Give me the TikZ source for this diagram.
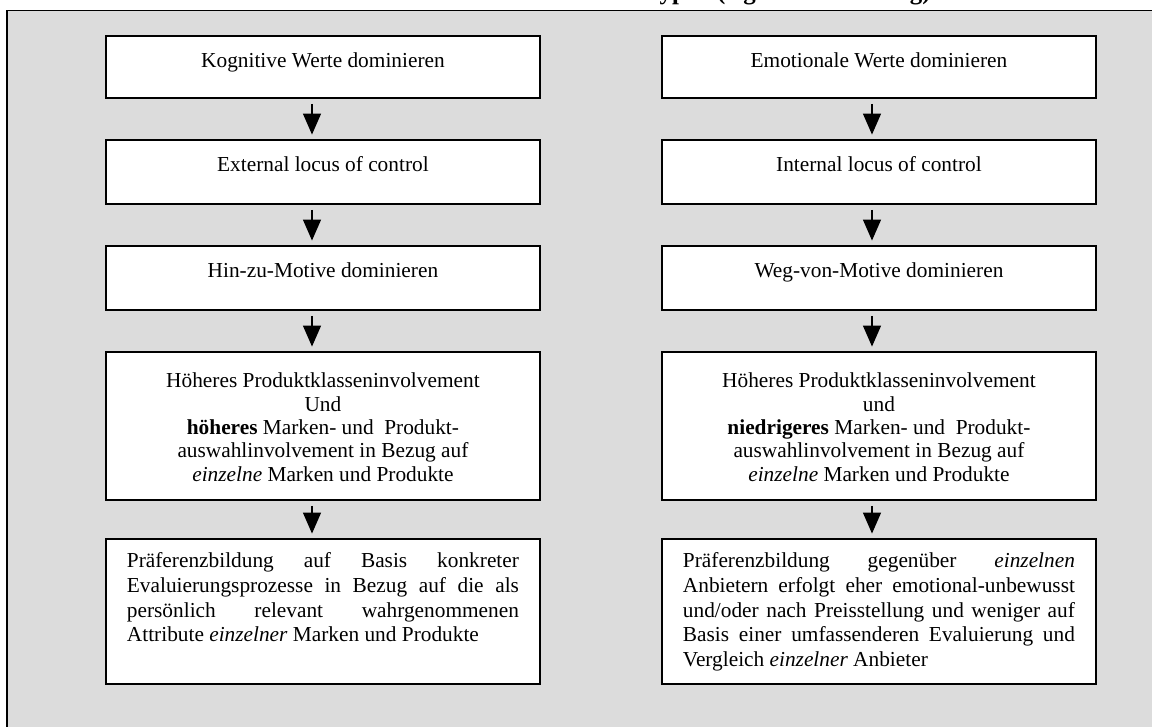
\documentclass[tikz,border=0pt]{standalone}
\usepackage{fontspec}
\setmainfont{Liberation Serif}
\usetikzlibrary{arrows.meta}
\definecolor{panelgray}{RGB}{220,220,220}
% one justified line of the lower boxes (font spaces, stretched to full width)
\newcommand\fullline[1]{{\spaceskip=0pt\xspaceskip=0pt\makebox[220.5pt][s]{#1}}}
% rigid spaces of the font's own width
\newcommand\plainspaces{\spaceskip=\fontdimen2\font\relax\xspaceskip=\spaceskip}
\begin{document}
\begin{tikzpicture}[x=0.5625pt,y=-0.5625pt,
  box/.style={draw=black, line width=1.1pt, fill=white, anchor=north west,
    inner xsep=11.8pt, inner ysep=0pt, text width=220.5pt,
    execute at begin node={\plainspaces}},
  onebox/.style={box, align=center, text height=18pt, text depth=16.9pt,
    font=\fontsize{12}{13.8}\selectfont},
  onetall/.style={onebox, text depth=18pt},
  midbox/.style={box, align=center, text height=20.25pt, text depth=63pt,
    font=\fontsize{12}{13.1}\selectfont},
  lowbox/.style={box, align=left, text height=16.3pt, text depth=65.25pt,
    font=\fontsize{12}{13.8}\selectfont},
  flow/.style={line width=0.8pt, -{Triangle[width=10.1pt,length=11.8pt]},
    shorten <=2.8pt, shorten >=2.5pt}
]
\useasboundingbox (0,0) rectangle (1152,727);
\clip (0,0) rectangle (1152,727);

% caption line, mostly above the page edge
\node[anchor=base west, inner sep=0pt, font=\bfseries\fontsize{14}{16}\selectfont]
  (title) at (651,-0.5) {typen (eigene Darstellung)};

% grey panel
\draw[line width=1.1pt, fill=panelgray] (7,10.5) rectangle (1175,750);

% left column
\node[onebox]  (l1) at (105,35)  {Kognitive Werte dominieren};
\node[onetall] (l2) at (105,139) {External locus of control};
\node[onetall] (l3) at (105,245) {Hin-zu-Motive dominieren};
\node[midbox]  (l4) at (105,351) {Höheres Produktklasseninvolvement\\
  Und\\
  \textbf{höheres} Marken- und\ \ Produkt-\\
  auswahlinvolvement in Bezug auf\\
  \textit{einzelne} Marken und Produkte};
\node[lowbox]  (l5) at (105,538) {%
  \fullline{Präferenzbildung auf Basis konkreter}\\
  \fullline{Evaluierungsprozesse in Bezug auf die als}\\
  \fullline{persönlich relevant wahrgenommenen}\\
  Attribute \textit{einzelner} Marken und Produkte};

% right column
\node[onebox]  (r1) at (661,35)  {Emotionale Werte dominieren};
\node[onetall] (r2) at (661,139) {Internal locus of control};
\node[onetall] (r3) at (661,245) {Weg-von-Motive dominieren};
\node[midbox]  (r4) at (661,351) {Höheres Produktklasseninvolvement\\
  und\\
  \textbf{niedrigeres} Marken- und\ \ Produkt-\\
  auswahlinvolvement in Bezug auf\\
  \textit{einzelne} Marken und Produkte};
\node[lowbox]  (r5) at (661,538) {%
  \fullline{Präferenzbildung gegenüber \textit{einzelnen}}\\
  \fullline{Anbietern erfolgt eher emotional-unbewusst}\\
  \fullline{und/oder nach Preisstellung und weniger auf}\\
  \fullline{Basis einer umfassenderen Evaluierung und}\\
  Vergleich \textit{einzelner} Anbieter};

% arrow columns
\coordinate (lx) at (312,0);
\coordinate (rx) at (872,0);
\foreach \a/\b in {l1/l2, l2/l3, l3/l4, l4/l5}
  \draw[flow] (\a.south -| lx) -- (\b.north -| lx);
\foreach \a/\b in {r1/r2, r2/r3, r3/r4, r4/r5}
  \draw[flow] (\a.south -| rx) -- (\b.north -| rx);
\end{tikzpicture}
\end{document}
